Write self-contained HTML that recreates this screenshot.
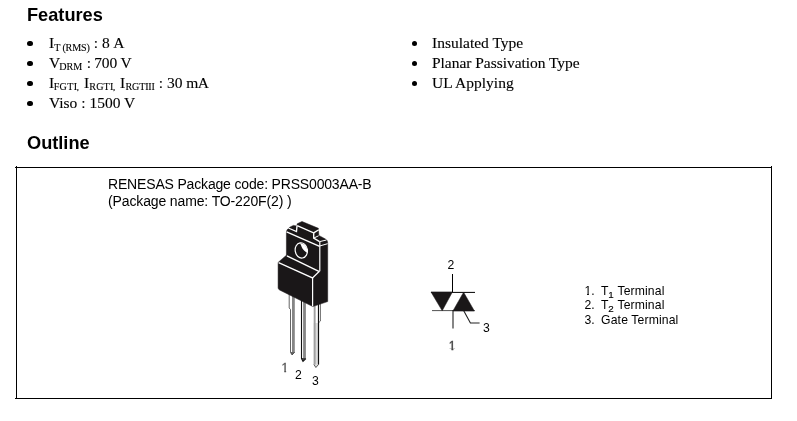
<!DOCTYPE html>
<html><head><meta charset="utf-8"><title>Features / Outline</title>
<style>
html,body{margin:0;padding:0;background:#fff;}
body{width:797px;height:421px;position:relative;overflow:hidden;color:#000;}
#pg{position:absolute;left:0;top:0;width:797px;height:421px;will-change:transform;}
.h{position:absolute;font-family:"Liberation Sans",sans-serif;font-weight:bold;font-size:18.2px;line-height:20px;white-space:nowrap;}
.t{position:absolute;-webkit-text-stroke:0.12px #000;font-family:"Liberation Serif",serif;font-size:15.5px;line-height:20px;white-space:nowrap;}
.t sub{font-size:10.1px;vertical-align:baseline;position:relative;top:2px;line-height:0;}
.b{position:absolute;width:5.4px;height:5.4px;border-radius:50%;background:#000;}
.s{position:absolute;font-family:"Liberation Sans",sans-serif;letter-spacing:-0.17px;font-size:14px;line-height:17px;white-space:nowrap;}
.n{position:absolute;font-family:"Liberation Sans",sans-serif;letter-spacing:0.13px;font-size:12.2px;line-height:15px;white-space:nowrap;}
.n sub{font-size:9.8px;letter-spacing:0;-webkit-text-stroke:0.15px #000;margin-left:-0.4px;margin-right:0.4px;vertical-align:baseline;position:relative;top:2.7px;line-height:0;}
#box{position:absolute;left:16px;top:167px;width:754px;height:230px;border:1px solid #000;box-sizing:content-box;}
.px{position:absolute;width:1px;height:1px;background:#000;}
svg{position:absolute;left:0;top:0;}
</style></head><body><div id="pg">
<div class="h" style="left:27px;top:5px;">Features</div>
<div class="b" style="left:27.40px;top:41.05px;"></div>
<div class="b" style="left:27.40px;top:61.05px;"></div>
<div class="b" style="left:27.40px;top:81.05px;"></div>
<div class="b" style="left:27.40px;top:101.05px;"></div>
<div class="t" style="left:49px;top:33px;">I<sub style="top:3px;letter-spacing:-0.15px;margin-right:0.2px">T (RMS)</sub> : 8 <span style="margin-left:-0.3px">A</span></div>
<div class="t" style="left:49px;top:53px;">V<sub style="margin-left:-0.9px;margin-right:0.5px">DRM</sub> : <span style="margin-left:-0.7px;letter-spacing:-0.15px">700</span> <span style="margin-left:-0.3px">V</span></div>
<div class="t" style="left:49px;top:73px;">I<sub style="margin-left:-0.5px;letter-spacing:0.3px">FGTI</sub><sub style="font-size:9px;margin-left:-0.6px;margin-right:1.2px">,</sub> I<sub style="letter-spacing:0.2px">RGTI</sub><sub style="font-size:9px;margin-left:-0.6px;margin-right:0.8px">,</sub> I<sub style="margin-left:0.5px;letter-spacing:-0.2px;margin-right:0.2px">RGTIII</sub> : 30 m<span style="margin-left:-0.6px">A</span></div>
<div class="t" style="left:49px;top:93px;">Viso : 1500 V</div>
<div class="b" style="left:411.60px;top:40.80px;"></div>
<div class="b" style="left:411.60px;top:60.80px;"></div>
<div class="b" style="left:411.60px;top:80.80px;"></div>
<div class="t" style="left:432px;top:33px;">Insulated Type</div>
<div class="t" style="left:432px;top:53px;letter-spacing:-0.035px;">Planar Passivation Type</div>
<div class="t" style="left:432px;top:73px;">UL Applying</div>
<div class="h" style="left:27px;top:133px;">Outline</div>
<div id="box"></div>
<div class="px" style="left:15px;top:167px;"></div><div class="px" style="left:16px;top:166px;"></div><div class="px" style="left:771px;top:166px;"></div><div class="px" style="left:15px;top:398px;"></div>
<div class="s" style="left:108px;top:176px;">RENESAS Package code: PRSS0003AA-B</div>
<div class="s" style="left:108px;top:193px;letter-spacing:-0.13px;">(Package name: TO-220F(2) )</div>
<div class="n" style="left:281.6px;top:361px;color:#555;-webkit-text-stroke:0.3px #555;clip-path:polygon(0 0,100% 0,100% 10px,4.5px 10px,4.5px 100%,2.7px 100%,2.7px 10px,0 10px);">1</div>
<div class="n" style="left:295.1px;top:368px;">2</div>
<div class="n" style="left:312px;top:374px;">3</div>
<div class="n" style="left:447.6px;top:258px;">2</div>
<div class="n" style="left:483.1px;top:321px;">3</div>
<div class="n" style="left:448.8px;top:339px;color:#444;-webkit-text-stroke:0.35px #444;clip-path:polygon(0 0,100% 0,100% 10px,4.5px 10px,4.5px 100%,2.7px 100%,2.7px 10px,0 10px);">1</div>
<div class="n" style="left:584.4px;top:284px;"><span style="display:inline-block;clip-path:polygon(0 0,100% 0,100% 10px,4.5px 10px,4.5px 100%,2.7px 100%,2.7px 10px,0 10px);">1</span>.</div>
<div class="n" style="left:601.1px;top:284px;">T<sub>1</sub> Terminal</div>
<div class="n" style="left:584.4px;top:298px;">2.</div>
<div class="n" style="left:601.1px;top:298px;">T<sub>2</sub> Terminal</div>
<div class="n" style="left:584.4px;top:313px;">3.</div>
<div class="n" style="left:601.1px;top:313px;">Gate Terminal</div>
<svg width="797" height="421" viewBox="0 0 797 421">
<!-- triac symbol -->
<g stroke="#000" stroke-width="1" fill="none">
<line x1="452.5" y1="274" x2="452.5" y2="292"/>
<line x1="431" y1="292.4" x2="475" y2="292.4"/>
<line x1="432" y1="310.6" x2="453" y2="310.6" stroke="#333" stroke-width="0.85"/>
<line x1="453" y1="310.6" x2="474.5" y2="310.6"/>
<line x1="453" y1="310" x2="453" y2="328.5" stroke="#222" stroke-width="1.1"/>
<polyline points="463.6,310.6 470.4,323 479.6,323" stroke="#222" stroke-width="1.1"/>
</g>
<polygon points="431,292 452.4,292 442.2,310.8" fill="#1a1718" stroke="#1a1718" stroke-width="0.5"/>
<polygon points="452.9,311 474.4,311 463.6,292.2" fill="#1a1718" stroke="#1a1718" stroke-width="0.5"/>
<!-- TO-220F package -->
<g id="pkg">
<!-- leads -->
<g fill="none">
<path d="M289.2,291 V308 L290.5,309.5 V352.4 L292,354.9 L294.8,352 V291 Z" fill="#fff"/>
<rect x="292" y="291" width="2.8" height="61.2" fill="#858585"/>
<path d="M290.5,352 L292,354.9 L294.8,352 Z" fill="#666"/>
<path d="M289.2,291 V308 L290.5,309.5 V352.4 L292,354.9 L294.8,352.2" stroke="#222" stroke-width="0.7"/>
<path d="M301,296 V358.5 L303,361.4 L305.9,358.5 V296 Z" fill="#fff"/>
<rect x="303.1" y="296" width="2.8" height="62.6" fill="#858585"/>
<path d="M301.5,358 L303,361.4 L305.9,358 Z" fill="#444"/>
<path d="M301.5,296 V358.5 L303,361.4 L305.9,358.7" stroke="#111" stroke-width="1.1"/>
<path d="M313.7,303 V364.5 L315.9,367.5 L318.9,364.5 V322.5 L320.6,321 V300 Z" fill="#fff"/>
<path d="M313.7,323 V364.5 L315.9,367.5 L318.5,364.5 V323 Z" fill="#ddd"/>
<rect x="313.7" y="303" width="1.9" height="61.5" fill="#a0a0a0"/>
<path d="M313.9,364.5 L315.9,367.5 L318.5,364.5" stroke="#333" stroke-width="0.8"/>
<path d="M318.5,303 V364.5" stroke="#111" stroke-width="1.2"/>
<path d="M320.5,300 V321 L318.9,322.5" stroke="#222" stroke-width="0.6"/>
</g>
<!-- body silhouette -->
<path d="M286.4,232 Q286.5,229.8 289.6,227.3 L293.3,225.4 L296.9,226 L297.2,223.8 L302,221.5 L318.4,228.3 L318.8,235.6 L320.7,236.4 L325.9,239.3 Q327.7,240.5 327.7,243 V301.6 L312.8,306.6 L279.6,290 Q278.1,289.3 278.1,287.8 V262.4 L286.4,255.2 Z" fill="#1a1718" stroke="#1a1718" stroke-width="0.5" stroke-linejoin="round"/>
<!-- white edge lines -->
<g fill="none" stroke="#fff" stroke-width="1.35" stroke-linecap="butt" stroke-linejoin="miter">
<path d="M286.6,231.8 L319.6,246.4"/>
<path d="M319.8,241.6 V271.2" stroke-width="1.2"/>
<path d="M288.4,228 L296.5,231.5 L297,225.6"/>
<path d="M297.2,225.7 L313.7,232.9 V238.1 L319.6,241.6"/>
<path d="M313.7,232.9 L318.8,229.7"/>
<path d="M313.7,238.1 L318.6,235.8" stroke-width="1"/>
<path d="M319.7,241.6 L326.4,240" stroke-width="1"/>
<path d="M319.7,246 L327.6,243.7" stroke-width="1"/>
<path d="M286.9,255.8 L319.4,271.6"/>
<path d="M278.6,262.6 L312.5,277.9 L319.4,271.3" stroke-width="1.25"/>
<path d="M312.6,277.9 V306.2" stroke-width="1.2"/>
</g>
<!-- mounting hole -->
<g transform="translate(301.3,250.4) rotate(-9)">
<ellipse cx="0" cy="0" rx="6.1" ry="7.7" fill="#1a1718" stroke="#fff" stroke-width="1.2"/>
<path d="M-0.6,-7.4 C5.2,-7 6.8,-0.5 5.9,3.6 C3.8,2.2 1.2,-0.8 0.9,-3.2 C0.7,-5 0.4,-6.4 -0.6,-7.4 Z" fill="#fff"/>
</g>
</g>
</svg>
</div></body></html>
